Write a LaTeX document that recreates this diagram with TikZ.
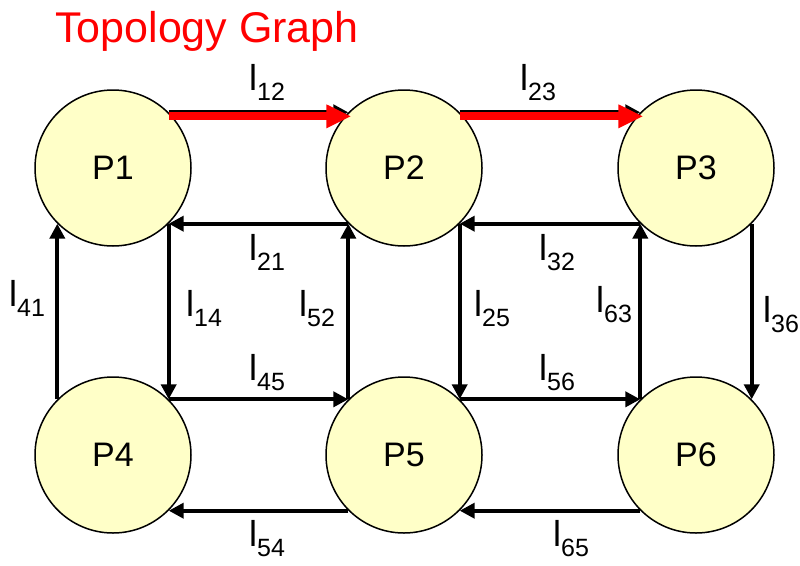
\documentclass[tikz,border=0pt]{standalone}
\usepackage{fontspec}
\setmainfont{Liberation Sans}
\usetikzlibrary{arrows.meta}
\definecolor{nodefill}{RGB}{255,255,200}
\newcommand\lbl[1]{l\raisebox{-0.3em}{\fontsize{25}{25}\selectfont #1}}
\begin{document}
\begin{tikzpicture}[x=1pt,y=-1pt,
  proc/.style={circle,draw=black,line width=1.5pt,fill=nodefill,minimum size=156pt,inner sep=0pt,font=\fontsize{34}{34}\selectfont},
  conn/.style={line width=4pt,-{Triangle[length=15pt,width=15pt]}},
  hot/.style={draw=red,line width=8pt,-{Triangle[length=25pt,width=22pt]}},
  lab/.style={inner sep=0pt,font=\fontsize{36}{36}\selectfont}]
\useasboundingbox (0,0) rectangle (800,565);
\node[text=red,font=\fontsize{43}{43}\selectfont,anchor=base west,inner sep=0pt] (title) at (55,42) {Topology Graph};
\node[proc] (P1) at (113,168) {P1};
\node[proc] (P2) at (404,168) {P2};
\node[proc] (P3) at (696,168) {P3};
\node[proc] (P4) at (113,455) {P4};
\node[proc] (P5) at (404,455) {P5};
\node[proc] (P6) at (696,455) {P6};
% top row
\draw[conn] (P1.45) -- (P2.135);
\draw[hot] ([yshift=-4pt]P1.45) -- ([yshift=-4pt,xshift=3pt]P2.135);
\draw[conn] (P2.45) -- (P3.135);
\draw[hot] ([yshift=-4pt]P2.45) -- ([yshift=-4pt,xshift=3pt]P3.135);
\draw[conn] (P2.-135) -- (P1.-45);
\draw[conn] (P3.-135) -- (P2.-45);
% verticals
\draw[conn] (P4.135) -- (P1.-135);
\draw[conn] (P1.-45) -- (P4.45);
\draw[conn] (P5.135) -- (P2.-135);
\draw[conn] (P2.-45) -- (P5.45);
\draw[conn] (P6.135) -- (P3.-135);
\draw[conn] (P3.-45) -- (P6.45);
% middle horizontals
\draw[conn] (P4.45) -- (P5.135);
\draw[conn] (P5.45) -- (P6.135);
% bottom
\draw[conn] (P5.-135) -- (P4.-45);
\draw[conn] (P6.-135) -- (P5.-45);
% labels
\node[lab,anchor=base west] (l12) at (249,90) {\lbl{12}};
\node[lab,anchor=base west] (l23) at (520,90) {\lbl{23}};
\node[lab,anchor=base west] (l21) at (249,260) {\lbl{21}};
\node[lab,anchor=base west] (l32) at (539,260) {\lbl{32}};
\node[lab,anchor=base west] (l41) at (9,306) {\lbl{41}};
\node[lab,anchor=base west] (l14) at (186,316) {\lbl{14}};
\node[lab,anchor=base west] (l52) at (299,316) {\lbl{52}};
\node[lab,anchor=base west] (l25) at (474,316) {\lbl{25}};
\node[lab,anchor=base west] (l63) at (596,312) {\lbl{63}};
\node[lab,anchor=base west] (l36) at (763,322) {\lbl{36}};
\node[lab,anchor=base west] (l45) at (249,380) {\lbl{45}};
\node[lab,anchor=base west] (l56) at (539,380) {\lbl{56}};
\node[lab,anchor=base west] (l54) at (249,546) {\lbl{54}};
\node[lab,anchor=base west] (l65) at (553,546) {\lbl{65}};
\end{tikzpicture}
\end{document}
